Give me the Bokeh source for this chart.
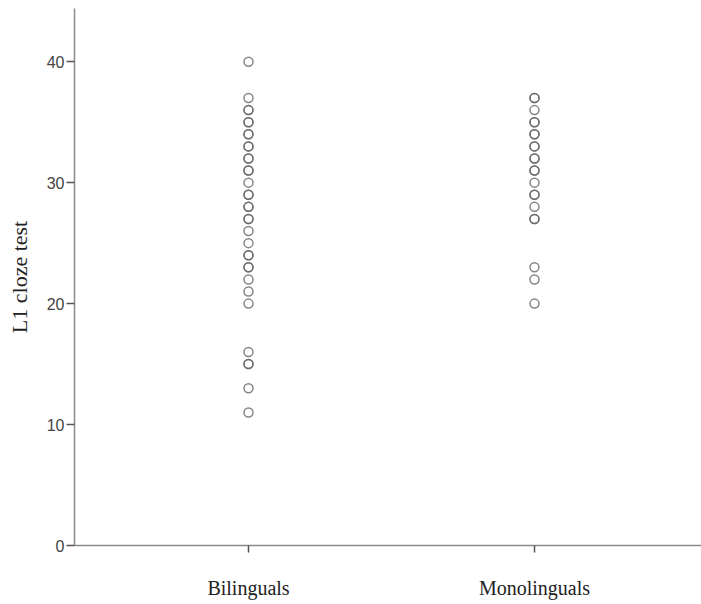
from bokeh.plotting import figure
from bokeh.models import FixedTicker, Range1d
from bokeh.embed import file_html
from bokeh.resources import INLINE

groups = ["Bilinguals", "Monolinguals"]
group_pos = [1, 2]
bilinguals = [40, 37, 36, 36, 35, 35, 34, 34, 33, 33, 32, 32, 31, 31, 30, 29, 29,
              28, 28, 27, 27, 26, 25, 24, 24, 23, 23, 22, 21, 20, 16, 15, 15, 13, 11]
monolinguals = [37, 37, 36, 35, 35, 34, 34, 33, 33, 32, 32, 31, 31, 30, 29, 29,
                28, 27, 27, 23, 22, 20]
y_ticks = [0, 10, 20, 30, 40]

p = figure(width=701, height=604, output_backend="svg", toolbar_location=None,
           x_range=Range1d(0.3916, 2.584), y_range=Range1d(0, 44.4),
           min_border_left=74, min_border_top=8, min_border_right=0, min_border_bottom=59)
p.outline_line_color = None
p.xgrid.grid_line_color = None
p.ygrid.grid_line_color = None

xs = [group_pos[0]] * len(bilinguals) + [group_pos[1]] * len(monolinguals)
ys = bilinguals + monolinguals
p.scatter(xs, ys, marker="circle", size=9, fill_color=None,
          line_color="#666666", line_width=1.5, line_alpha=0.8)

p.xaxis.ticker = FixedTicker(ticks=group_pos)
p.xaxis.major_label_overrides = {g: n for g, n in zip(group_pos, groups)}
p.yaxis.ticker = FixedTicker(ticks=y_ticks)
p.yaxis.axis_label = "L1 cloze test"

for ax in (p.xaxis, p.yaxis):
    ax.axis_line_color = "#8a8a8a"
    ax.axis_line_width = 1.5
    ax.major_tick_line_color = "#555555"
    ax.major_tick_line_width = 1.5
    ax.minor_tick_line_color = None
    ax.major_tick_in = 0
p.yaxis.major_tick_out = 8
p.xaxis.major_tick_out = 7
p.xaxis.major_label_standoff = 24
p.xaxis.major_label_text_font = "Liberation Serif"
p.xaxis.major_label_text_font_size = "20px"
p.xaxis.major_label_text_color = "#222222"
p.yaxis.major_label_text_font = "Liberation Sans"
p.yaxis.major_label_text_font_size = "16px"
p.yaxis.major_label_text_color = "#444444"
p.yaxis.major_label_standoff = 2
p.yaxis.axis_label_text_font = "Liberation Serif"
p.yaxis.axis_label_text_font_style = "normal"
p.yaxis.axis_label_text_font_size = "22px"
p.yaxis.axis_label_text_color = "#222222"
p.yaxis.axis_label_standoff = 12

open("out.html", "w").write(file_html(p, INLINE))
